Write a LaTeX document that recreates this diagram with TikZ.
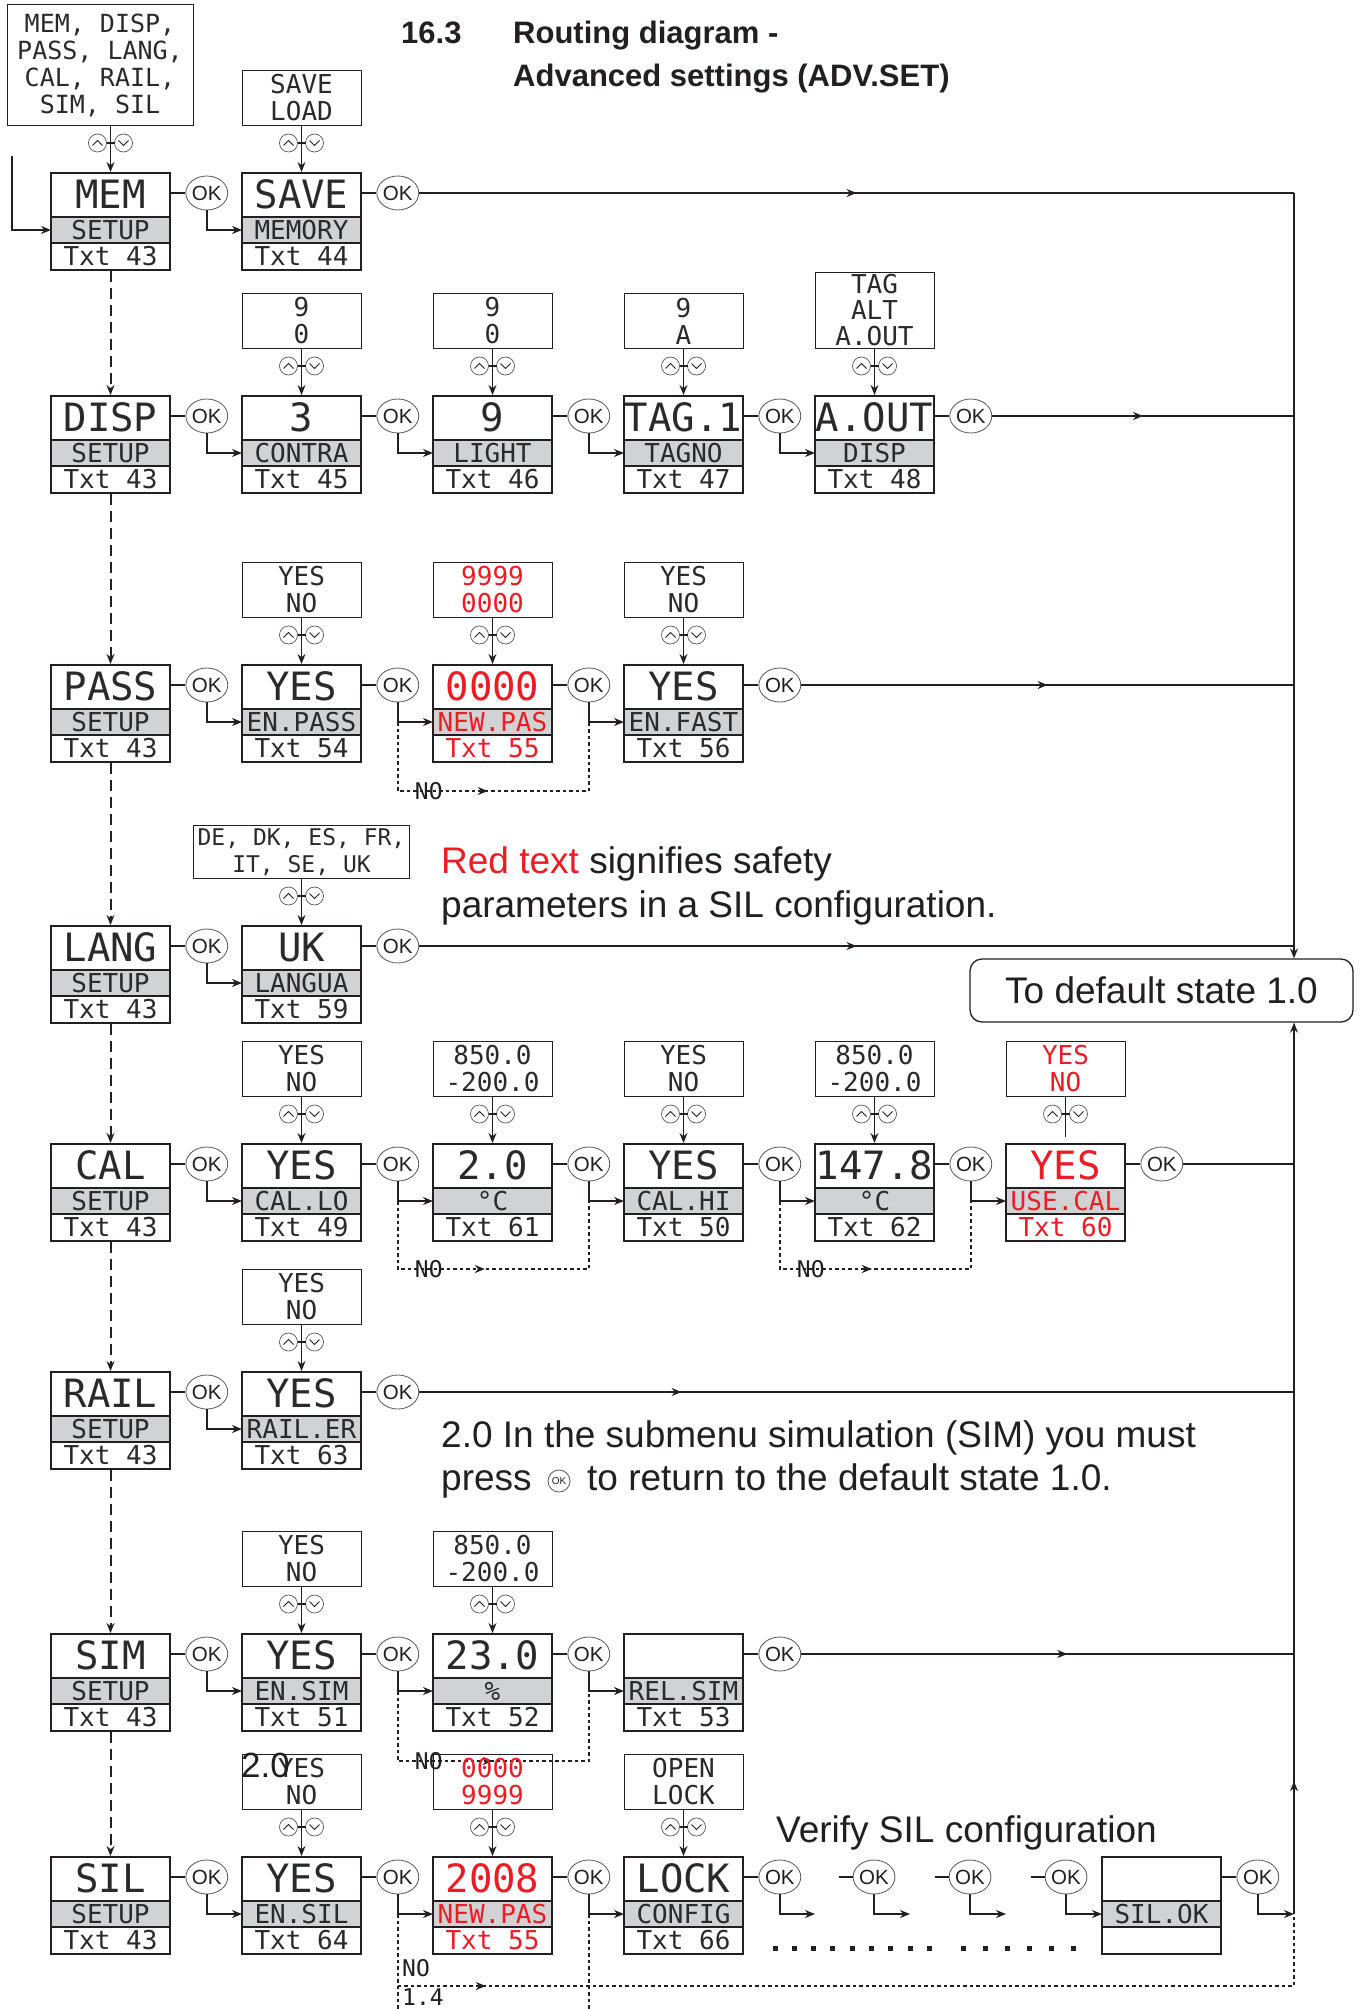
\documentclass[tikz,border=0pt]{standalone}
\usepackage{fontspec}
\setmainfont{Liberation Sans}
\newfontfamily\lcdfont{DejaVu Sans Mono}
\usetikzlibrary{arrows.meta,decorations.markings,shapes.geometric}
\definecolor{ink}{HTML}{231F20}
\definecolor{lcdink}{HTML}{2A2A2A}
\definecolor{lcdred}{HTML}{EC1C24}
\definecolor{lcdgray}{HTML}{D1D2D4}
\definecolor{okgray}{HTML}{555555}
\tikzset{
 boxframe/.style={draw=ink, line width=1.6pt, minimum width=119pt, minimum height=97pt, inner sep=0pt, anchor=north},
 divline/.style={draw=ink, line width=1.6pt},
 bigtxt/.style={font=\fontsize{39}{39}\lcdfont, inner sep=0pt, text height=28.4pt, text depth=0pt},
 smalltxt/.style={font=\fontsize{26}{26}\lcdfont, inner sep=0pt, text height=19pt, text depth=0pt},
 optframe/.style={draw=ink, line width=1pt, inner sep=0pt, align=center, font=\fontsize{26}{27}\lcdfont, text=lcdink},
 okc/.style={ellipse, draw=okgray, line width=0.8pt, fill=white, minimum width=32pt, minimum height=34pt, inner sep=0pt, font=\fontsize{20.5}{20.5}\selectfont, text=ink},
 btn/.style={circle, draw=okgray, line width=0.7pt, minimum size=18pt, inner sep=0pt},
 chev/.style={draw=ink, line width=0.9pt},
 conn/.style={draw=ink, line width=1.4pt},
 arr/.style={conn, -{Stealth[length=10pt,width=8pt]}},
 dasharr/.style={draw=ink, line width=2pt, dash pattern=on 11pt off 6pt, -{Stealth[length=10pt,width=8pt]}},
 noline/.style={draw=ink, line width=1.8pt, dash pattern=on 3.5pt off 3pt},
 midarr/.style={postaction=decorate, decoration={markings, mark=at position #1 with {\arrow{Stealth[length=10pt,width=8pt]}}}},
 bodytxt/.style={font=\fontsize{37}{44}\selectfont, inner sep=0pt, anchor=base west, text=ink},
 titletxt/.style={font=\fontsize{31}{31}\bfseries, inner sep=0pt, anchor=base west, text=ink},
 nolbl/.style={font=\fontsize{23}{23}\lcdfont, inner sep=0pt, text=ink},
 defbox/.style={draw=ink, line width=1.3pt, rounded corners=12pt, minimum width=383pt, minimum height=63pt, inner sep=0pt, font=\fontsize{37}{37}\selectfont, text height=26.5pt, text depth=0pt, text=ink},
}
\newcommand\lcdbox[7][lcdink]{%
 \path[fill=lcdgray] (#3-59.5,#4+45) rectangle (#3+59.5,#4+71);
 \draw[divline] (#3-59.5,#4+45) -- (#3+59.5,#4+45) (#3-59.5,#4+71) -- (#3+59.5,#4+71);
 \node[boxframe] (#2) at (#3,#4) {};
 \node[bigtxt,text=#1] (#2-t) at (#3,#4+22.5) {#5};
 \node[smalltxt,text=#1] (#2-m) at (#3,#4+58) {#6};
 \node[smalltxt,text=#1] (#2-b) at (#3,#4+84) {#7};
 \coordinate (#2-in) at (#3-59.5,#4+58);
}
\newcommand\okafter[1]{%
 \node[okc] (#1-ok) at ([xshift=36pt,yshift=-21pt]#1.north east) {OK};
 \draw[conn] (#1.north east |- #1-ok) -- (#1-ok);
}
\newcommand\updn[1]{%
 \node[btn] (#1-u) at ([xshift=-13pt]#1) {};
 \node[btn] (#1-d) at ([xshift=13pt]#1) {};
 \draw[chev] ([xshift=-5pt,yshift=-2.5pt]#1-u.center) -- ([yshift=2.5pt]#1-u.center) -- ([xshift=5pt,yshift=-2.5pt]#1-u.center);
 \draw[chev] ([xshift=-5pt,yshift=2.5pt]#1-d.center) -- ([yshift=-2.5pt]#1-d.center) -- ([xshift=5pt,yshift=2.5pt]#1-d.center);
 \draw[conn] ([xshift=-4pt]#1) -- ([xshift=4pt]#1);
}
\newcommand\optnode[6][]{%
 \node[optframe,#1,minimum width=#3pt,minimum height=#4pt,anchor=south] (#2-o) at ([xshift=#5pt,yshift=46pt]#2.north) {#6};
 \path (#2.north |- #2-o.south) ++(0,17) coordinate (#2-btn);
 \updn{#2-btn}%
}
\newcommand\optfor[6][]{%
 \optnode[#1]{#2}{#3}{#4}{#5}{#6}%
 \draw[arr] (#2.north |- #2-o.south) -- (#2.north);
}
\newcommand\noloop[6]{%
 \path (#1 |- #2) coordinate (#5-s) ++(0,#4) coordinate (#5-c);
 \draw[noline, midarr=#6] (#5-s) -- (#5-c) -| (#3 |- #2);
 \path (#5-c) ++(31,0) node[nolbl] (#5) {NO};
}
\begin{document}
\begin{tikzpicture}[x=1pt,y=-1pt]
\useasboundingbox (0,0) rectangle (1361,2009);
\fill[white] (0,0) rectangle (1361,2009);

% title
\node[titletxt] (t1) at (401,44) {16.3};
\node[titletxt] (t2) at (513,44) {Routing diagram -};
\node[titletxt] (t3) at (513,87) {Advanced settings (ADV.SET)};

% default state box and right bus
\node[defbox] (def) at (1161.5,990.5) {To default state 1.0};
\coordinate (rtop) at (1294,193);
\coordinate (rbot) at (1294,1914);
\draw[arr] (rtop) -- (def.north -| rtop);

% ---------- row MEM
\lcdbox{mem}{110.5}{172}{MEM}{SETUP}{Txt 43}
\lcdbox{save}{301.5}{172}{SAVE}{MEMORY}{Txt 44}
\optfor[font=\fontsize{25}{27}\lcdfont]{mem}{186}{121}{-10.5}{MEM, DISP,\\PASS, LANG,\\CAL, RAIL,\\SIM, SIL}
\optfor{save}{119}{55}{0}{SAVE\\LOAD}
\coordinate (entry) at (12,156);
\draw[arr] (entry) |- (mem-in);
\okafter{mem}
\draw[arr] (mem-ok.south) |- (save-in);
\okafter{save}
\draw[conn, midarr=0.5] (save-ok) -- (rtop);

% ---------- row DISP
\lcdbox{disp}{110.5}{395}{DISP}{SETUP}{Txt 43}
\lcdbox{contra}{301.5}{395}{3}{CONTRA}{Txt 45}
\lcdbox{light}{492.5}{395}{9}{LIGHT}{Txt 46}
\lcdbox{tagno}{683.5}{395}{TAG.1}{TAGNO}{Txt 47}
\lcdbox{aout}{874.5}{395}{A.OUT}{DISP}{Txt 48}
\optfor{contra}{119}{55}{0}{9\\0}
\optfor{light}{119}{55}{0}{9\\0}
\optfor{tagno}{119}{55}{0}{9\\A}
\optfor[font=\fontsize{26}{26}\lcdfont]{aout}{119}{76}{0}{TAG\\ALT\\A.OUT}
\okafter{disp}\draw[arr] (disp-ok.south) |- (contra-in);
\okafter{contra}\draw[arr] (contra-ok.south) |- (light-in);
\okafter{light}\draw[arr] (light-ok.south) |- (tagno-in);
\okafter{tagno}\draw[arr] (tagno-ok.south) |- (aout-in);
\okafter{aout}
\draw[conn, midarr=0.5] (aout-ok) -- (aout-ok -| rtop);

% ---------- row PASS
\lcdbox{pass}{110.5}{664}{PASS}{SETUP}{Txt 43}
\lcdbox{enpass}{301.5}{664}{YES}{EN.PASS}{Txt 54}
\lcdbox[lcdred]{newpas}{492.5}{664}{0000}{NEW.PAS}{Txt 55}
\lcdbox{enfast}{683.5}{664}{YES}{EN.FAST}{Txt 56}
\optfor{enpass}{119}{55}{0}{YES\\NO}
\optfor[text=lcdred]{newpas}{119}{55}{0}{9999\\0000}
\optfor{enfast}{119}{55}{0}{YES\\NO}
\okafter{pass}\draw[arr] (pass-ok.south) |- (enpass-in);
\okafter{enpass}\draw[arr] (enpass-ok.south) |- (newpas-in);
\okafter{newpas}\draw[arr] (newpas-ok.south) |- (enfast-in);
\okafter{enfast}
\draw[conn, midarr=0.5] (enfast-ok) -- (enfast-ok -| rtop);
\noloop{enpass-ok}{newpas-in}{newpas-ok}{69}{no1}{159pt}

% ---------- row LANG
\lcdbox{lang}{110.5}{925}{LANG}{SETUP}{Txt 43}
\lcdbox{langua}{301.5}{925}{UK}{LANGUA}{Txt 59}
\optfor[font=\fontsize{23}{27}\lcdfont]{langua}{216}{53}{0}{DE, DK, ES, FR,\\IT, SE, UK}
\okafter{lang}\draw[arr] (lang-ok.south) |- (langua-in);
\okafter{langua}
\draw[conn, midarr=0.5] (langua-ok) -- (langua-ok -| rtop);

% ---------- row CAL
\lcdbox{cal}{110.5}{1143}{CAL}{SETUP}{Txt 43}
\lcdbox{callo}{301.5}{1143}{YES}{CAL.LO}{Txt 49}
\lcdbox{c61}{492.5}{1143}{2.0}{°C}{Txt 61}
\lcdbox{calhi}{683.5}{1143}{YES}{CAL.HI}{Txt 50}
\lcdbox{c62}{874.5}{1143}{147.8}{°C}{Txt 62}
\lcdbox[lcdred]{usecal}{1065.5}{1143}{YES}{USE.CAL}{Txt 60}
\optfor{callo}{119}{55}{0}{YES\\NO}
\optfor{c61}{119}{55}{0}{850.0\\-200.0}
\optfor{calhi}{119}{55}{0}{YES\\NO}
\optfor{c62}{119}{55}{0}{850.0\\-200.0}
\optnode[text=lcdred]{usecal}{119}{55}{0}{YES\\NO}
\draw[conn] (usecal.north |- usecal-o.south) -- ++(0,40);
\okafter{cal}\draw[arr] (cal-ok.south) |- (callo-in);
\okafter{callo}\draw[arr] (callo-ok.south) |- (c61-in);
\okafter{c61}\draw[arr] (c61-ok.south) |- (calhi-in);
\okafter{calhi}\draw[arr] (calhi-ok.south) |- (c62-in);
\okafter{c62}\draw[arr] (c62-ok.south) |- (usecal-in);
\okafter{usecal}
\draw[conn] (usecal-ok) -- (usecal-ok -| rtop);
\noloop{callo-ok}{c61-in}{c61-ok}{68}{no2}{155pt}
\noloop{calhi-ok}{c62-in}{c62-ok}{68}{no3}{160pt}

% ---------- row RAIL
\lcdbox{rail}{110.5}{1371}{RAIL}{SETUP}{Txt 43}
\lcdbox{railer}{301.5}{1371}{YES}{RAIL.ER}{Txt 63}
\optfor{railer}{119}{55}{0}{YES\\NO}
\okafter{rail}\draw[arr] (rail-ok.south) |- (railer-in);
\okafter{railer}
\draw[conn, midarr=0.3] (railer-ok) -- (railer-ok -| rtop);

% ---------- row SIM
\lcdbox{sim}{110.5}{1633}{SIM}{SETUP}{Txt 43}
\lcdbox{ensim}{301.5}{1633}{YES}{EN.SIM}{Txt 51}
\lcdbox{c52}{492.5}{1633}{23.0}{\%}{Txt 52}
\lcdbox{relsim}{683.5}{1633}{}{REL.SIM}{Txt 53}
\optfor{ensim}{119}{55}{0}{YES\\NO}
\optfor{c52}{119}{55}{0}{850.0\\-200.0}
\okafter{sim}\draw[arr] (sim-ok.south) |- (ensim-in);
\okafter{ensim}\draw[arr] (ensim-ok.south) |- (c52-in);
\okafter{c52}\draw[arr] (c52-ok.south) |- (relsim-in);
\okafter{relsim}
\draw[conn, midarr=0.54] (relsim-ok) -- (relsim-ok -| rtop);
\noloop{ensim-ok}{c52-in}{c52-ok}{70}{no4}{165pt}

% ---------- row SIL
\lcdbox{sil}{110.5}{1856}{SIL}{SETUP}{Txt 43}
\lcdbox{ensil}{301.5}{1856}{YES}{EN.SIL}{Txt 64}
\lcdbox[lcdred]{c2008}{492.5}{1856}{2008}{NEW.PAS}{Txt 55}
\lcdbox{lock}{683.5}{1856}{LOCK}{CONFIG}{Txt 66}
\lcdbox{silok}{1161.5}{1856}{}{SIL.OK}{}
\optfor{ensil}{119}{55}{0}{YES\\NO}
\optfor[text=lcdred]{c2008}{119}{55}{0}{0000\\9999}
\optfor{lock}{119}{55}{0}{OPEN\\LOCK}
\okafter{sil}\draw[arr] (sil-ok.south) |- (ensil-in);
\okafter{ensil}\draw[arr] (ensil-ok.south) |- (c2008-in);
\okafter{c2008}\draw[arr] (c2008-ok.south) |- (lock-in);
\okafter{lock}
\coordinate (v0e) at (815,1914);
\draw[arr] (lock-ok.south) |- (v0e);
\node[okc] (v1) at (874,1877) {OK};
\coordinate (v1a) at (839,1877);
\coordinate (v1e) at (910,1914);
\draw[conn] (v1a) -- (v1);
\draw[arr] (v1.south) |- (v1e);
\node[okc] (v2) at (970,1877) {OK};
\coordinate (v2a) at (935,1877);
\coordinate (v2e) at (1006,1914);
\draw[conn] (v2a) -- (v2);
\draw[arr] (v2.south) |- (v2e);
\node[okc] (v3) at (1066,1877) {OK};
\coordinate (v3a) at (1031,1877);
\draw[conn] (v3a) -- (v3);
\draw[arr] (v3.south) |- (silok-in);
\okafter{silok}
\draw[arr] (silok-ok.south) |- (rbot);
\draw[arr, midarr=0.149] (rbot) -- (def.south -| rbot);
% dotted return
\path (ensil-ok |- c2008-in) coordinate (sb1) ++(0,72) coordinate (botL);
\path (c2008-ok |- lock-in) coordinate (sb2);
\path (rbot) ++(0,72) coordinate (botR);
\draw[noline] (sb1) -- ++(0,95);
\draw[noline] (sb2) -- ++(0,95);
\draw[noline, midarr=88pt] (botL) -- (botR) -- (rbot);
\node[nolbl, anchor=west] (nosil) at (402,1968) {NO};
\node[nolbl, anchor=west] (n14) at (402,1997) {1.4};
% dots
\foreach \i in {0,...,8} \fill[ink] (772.5+19.3*\i,1945.5) rectangle ++(5,5);
\foreach \i in {0,...,5} \fill[ink] (960.5+22*\i,1945.5) rectangle ++(5,5);

% left dashed chain
\draw[dasharr] (mem.south) -- (disp.north);
\draw[dasharr] (disp.south) -- (pass.north);
\draw[dasharr] (pass.south) -- (lang.north);
\draw[dasharr] (lang.south) -- (cal.north);
\draw[dasharr] (cal.south) -- (rail.north);
\draw[dasharr] (rail.south) -- (sim.north);
\draw[dasharr] (sim.south) -- (sil.north);

% texts
\node[bodytxt] (red1) at (441,873) {\textcolor{lcdred}{Red text} signifies safety};
\node[bodytxt] (red2) at (441,917) {parameters in a SIL configuration.};
\node[bodytxt] (sim1) at (441,1447) {2.0 In the submenu simulation (SIM) you must};
\node[bodytxt] (sim2) at (441,1490) {press};
\node[okc, minimum width=22pt, minimum height=22pt, font=\fontsize{10}{10}\selectfont] (pressok) at (559,1481) {OK};
\node[bodytxt] (sim3) at (587,1490) {to return to the default state 1.0.};
\node[bodytxt] (ver) at (776,1842) {Verify SIL configuration};
\node[font=\fontsize{35}{35}\selectfont, anchor=base west, inner sep=0pt, text=ink] (ov) at (241,1777) {2.0};
\end{tikzpicture}
\end{document}
